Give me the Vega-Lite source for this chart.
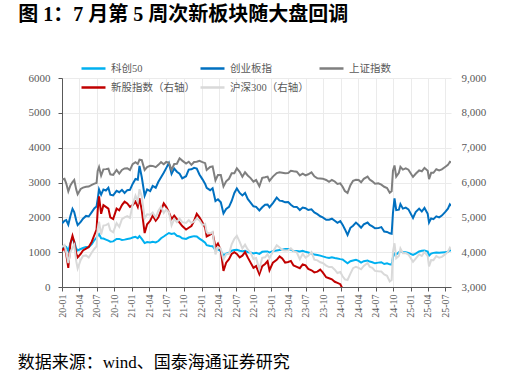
{
"$schema": "https://vega.github.io/schema/vega-lite/v6.json",
"background": "white",
"padding": {"left": 17, "right": 20, "top": 5, "bottom": 4},
"config": {"view": {"stroke": null}, "font": "Liberation Serif, Noto Sans CJK SC"},
"title": {"text": "图 1：7 月第 5 周次新板块随大盘回调", "anchor": "start", "frame": "bounds", "font": "Liberation Serif, Noto Sans CJK SC", "fontSize": 20, "fontWeight": "bold", "color": "#000000", "offset": 30, "dx": 1},
"width": 389, "height": 209,
"datasets": {"idx": [
{"date":"2020-01-02","科创50":1130,"创业板指":1826,"上证指数":3085,"新股指数（右轴）":4030,"沪深300（右轴）":4152},
{"date":"2020-01-14","科创50":1180,"创业板指":1900,"上证指数":3106,"新股指数（右轴）":4150,"沪深300（右轴）":4203},
{"date":"2020-01-23","科创50":1150,"创业板指":1920,"上证指数":2977,"新股指数（右轴）":3950,"沪深300（右轴）":4003},
{"date":"2020-02-03","科创50":1040,"创业板指":1789,"上证指数":2746,"新股指数（右轴）":3550,"沪深300（右轴）":3688},
{"date":"2020-02-14","科创50":1250,"创业板指":2040,"上证指数":2917,"新股指数（右轴）":4250,"沪深300（右轴）":4007},
{"date":"2020-02-25","科创50":1400,"创业板指":2245,"上证指数":3013,"新股指数（右轴）":4470,"沪深300（右轴）":4124},
{"date":"2020-03-05","科创50":1300,"创业板指":2150,"上证指数":3071,"新股指数（右轴）":4300,"沪深300（右轴）":4206},
{"date":"2020-03-16","科创50":1100,"创业板指":1900,"上证指数":2789,"新股指数（右轴）":3950,"沪深300（右轴）":3728},
{"date":"2020-03-23","科创50":1050,"创业板指":1776,"上证指数":2661,"新股指数（右轴）":3850,"沪深300（右轴）":3530},
{"date":"2020-04-08","科创50":1090,"创业板指":1870,"上证指数":2815,"新股指数（右轴）":3950,"沪深300（右轴）":3778},
{"date":"2020-04-20","科创50":1120,"创业板指":1960,"上证指数":2852,"新股指数（右轴）":4050,"沪深300（右轴）":3893},
{"date":"2020-05-06","科创50":1150,"创业板指":2040,"上证指数":2878,"新股指数（右轴）":4100,"沪深300（右轴）":3907},
{"date":"2020-05-20","科创50":1140,"创业板指":2025,"上证指数":2883,"新股指数（右轴）":4150,"沪深300（右轴）":3845},
{"date":"2020-06-05","科创50":1230,"创业板指":2150,"上证指数":2930,"新股指数（右轴）":4300,"沪深300（右轴）":3990},
{"date":"2020-06-19","科创50":1350,"创业板指":2260,"上证指数":2967,"新股指数（右轴）":4500,"沪深300（右轴）":4099},
{"date":"2020-06-30","科创50":1420,"创业板指":2312,"上证指数":2985,"新股指数（右轴）":4650,"沪深300（右轴）":4164},
{"date":"2020-07-06","科创50":1470,"创业板指":2520,"上证指数":3332,"新股指数（右轴）":5200,"沪深300（右轴）":4670},
{"date":"2020-07-13","科创50":1520,"创业板指":2800,"上证指数":3443,"新股指数（右轴）":5600,"沪深300（右轴）":4877},
{"date":"2020-07-24","科创50":1400,"创业板指":2650,"上证指数":3196,"新股指数（右轴）":5100,"沪深300（右轴）":4505},
{"date":"2020-08-05","科创50":1390,"创业板指":2800,"上证指数":3377,"新股指数（右轴）":5350,"沪深300（右轴）":4762},
{"date":"2020-08-18","科创50":1360,"创业板指":2770,"上证指数":3384,"新股指数（右轴）":5300,"沪深300（右轴）":4775},
{"date":"2020-08-31","科创50":1330,"创业板指":2847,"上证指数":3396,"新股指数（右轴）":5250,"沪深300（右轴）":4816},
{"date":"2020-09-10","科创50":1300,"创业板指":2650,"上证指数":3235,"新股指数（右轴）":5000,"沪深300（右轴）":4625},
{"date":"2020-09-25","科创50":1310,"创业板指":2630,"上证指数":3219,"新股指数（右轴）":4950,"沪深300（右轴）":4570},
{"date":"2020-10-13","科创50":1380,"创业板指":2760,"上证指数":3359,"新股指数（右轴）":5250,"沪深300（右轴）":4832},
{"date":"2020-10-27","科创50":1380,"创业板指":2720,"上证指数":3254,"新股指数（右轴）":5200,"沪深300（右轴）":4727},
{"date":"2020-11-10","科创50":1350,"创业板指":2790,"上证指数":3360,"新股指数（右轴）":5350,"沪深300（右轴）":4950},
{"date":"2020-11-24","科创50":1360,"创业板指":2700,"上证指数":3402,"新股指数（右轴）":5450,"沪深300（右轴）":5000},
{"date":"2020-12-08","科创50":1380,"创业板指":2780,"上证指数":3410,"新股指数（右轴）":5400,"沪深300（右轴）":5034},
{"date":"2020-12-22","科创50":1390,"创业板指":2790,"上证指数":3356,"新股指数（右轴）":5300,"沪深300（右轴）":4985},
{"date":"2021-01-05","科创50":1420,"创业板指":2960,"上证指数":3528,"新股指数（右轴）":5350,"沪深300（右轴）":5368},
{"date":"2021-01-20","科创50":1440,"创业板指":3100,"上证指数":3583,"新股指数（右轴）":5450,"沪深300（右轴）":5620},
{"date":"2021-02-01","科创50":1400,"创业板指":3080,"上证指数":3533,"新股指数（右轴）":5300,"沪深300（右轴）":5450},
{"date":"2021-02-10","科创50":1460,"创业板指":3476,"上证指数":3655,"新股指数（右轴）":5550,"沪深300（右轴）":5807},
{"date":"2021-02-22","科创50":1380,"创业板指":3150,"上证指数":3642,"新股指数（右轴）":5200,"沪深300（右轴）":5600},
{"date":"2021-03-09","科创50":1260,"创业板指":2620,"上证指数":3360,"新股指数（右轴）":4550,"沪深300（右轴）":4971},
{"date":"2021-03-22","科创50":1290,"创业板指":2800,"上证指数":3443,"新股指数（右轴）":4800,"沪深300（右轴）":5087},
{"date":"2021-04-07","科创50":1280,"创业板指":2750,"上证指数":3480,"新股指数（右轴）":4900,"沪深300（右轴）":5075},
{"date":"2021-04-20","科创50":1300,"创业板指":2900,"上证指数":3477,"新股指数（右轴）":5050,"沪深300（右轴）":5135},
{"date":"2021-05-06","科创50":1280,"创业板指":2850,"上证指数":3441,"新股指数（右轴）":4900,"沪深300（右轴）":4995},
{"date":"2021-05-20","科创50":1320,"创业板指":3020,"上证指数":3507,"新股指数（右轴）":5000,"沪深300（右轴）":5193},
{"date":"2021-06-03","科创50":1400,"创业板指":3150,"上证指数":3584,"新股指数（右轴）":5200,"沪深300（右轴）":5307},
{"date":"2021-06-17","科创50":1450,"创业板指":3280,"上证指数":3525,"新股指数（右轴）":5400,"沪深300（右轴）":5125},
{"date":"2021-06-30","科创50":1500,"创业板指":3412,"上证指数":3591,"新股指数（右轴）":5300,"沪深300（右轴）":5224},
{"date":"2021-07-14","科创50":1550,"创业板指":3560,"上证指数":3566,"新股指数（右轴）":5150,"沪深300（右轴）":5150},
{"date":"2021-07-28","科创50":1520,"创业板指":3250,"上证指数":3362,"新股指数（右轴）":4950,"沪深300（右轴）":4770},
{"date":"2021-08-11","科创50":1540,"创业板指":3400,"上证指数":3532,"新股指数（右轴）":5050,"沪深300（右轴）":4950},
{"date":"2021-08-25","科创50":1470,"创业板指":3310,"上证指数":3540,"新股指数（右轴）":4950,"沪深300（右轴）":4860},
{"date":"2021-09-08","科创50":1450,"创业板指":3250,"上证指数":3693,"新股指数（右轴）":4850,"沪深300（右轴）":4960},
{"date":"2021-09-22","科创50":1400,"创业板指":3120,"上证指数":3628,"新股指数（右轴）":4750,"沪深300（右轴）":4860},
{"date":"2021-10-12","科创50":1380,"创业板指":3180,"上证指数":3546,"新股指数（右轴）":4650,"沪深300（右轴）":4840},
{"date":"2021-10-26","科创50":1420,"创业板指":3370,"上证指数":3597,"新股指数（右轴）":4700,"沪深300（右轴）":4920},
{"date":"2021-11-09","科创50":1440,"创业板指":3380,"上证指数":3507,"新股指数（右轴）":4750,"沪深300（右轴）":4837},
{"date":"2021-11-23","科创50":1460,"创业板指":3420,"上证指数":3589,"新股指数（右轴）":4900,"沪深300（右轴）":4880},
{"date":"2021-12-07","科创50":1450,"创业板指":3400,"上证指数":3595,"新股指数（右轴）":5100,"沪深300（右轴）":4966},
{"date":"2021-12-21","科创50":1390,"创业板指":3230,"上证指数":3625,"新股指数（右轴）":5000,"沪深300（右轴）":4914},
{"date":"2022-01-06","科创50":1330,"创业板指":3090,"上证指数":3586,"新股指数（右轴）":4850,"沪深300（右轴）":4778},
{"date":"2022-01-20","科创50":1270,"创业板指":2960,"上证指数":3555,"新股指数（右轴）":4700,"沪深300（右轴）":4813},
{"date":"2022-01-28","科创50":1200,"创业板指":2844,"上证指数":3361,"新股指数（右轴）":4450,"沪深300（右轴）":4564},
{"date":"2022-02-15","科创50":1180,"创业板指":2780,"上证指数":3446,"新股指数（右轴）":4500,"沪深300（右轴）":4540},
{"date":"2022-02-28","科创50":1170,"创业板指":2836,"上证指数":3462,"新股指数（右轴）":4550,"沪深300（右轴）":4581},
{"date":"2022-03-15","科创50":1060,"创业板指":2470,"上证指数":3064,"新股指数（右轴）":4150,"沪深300（右轴）":3934},
{"date":"2022-03-28","科创50":1080,"创业板指":2520,"上证指数":3214,"新股指数（右轴）":4250,"沪深300（右轴）":4150},
{"date":"2022-04-12","科创50":1030,"创业板指":2430,"上证指数":3213,"新股指数（右轴）":4050,"沪深300（右轴）":4100},
{"date":"2022-04-26","科创50":910,"创业板指":2112,"上证指数":2887,"新股指数（右轴）":3460,"沪深300（右轴）":3785},
{"date":"2022-05-10","科创50":960,"创业板指":2240,"上证指数":3035,"新股指数（右轴）":3700,"沪深300（右轴）":3940},
{"date":"2022-05-25","科创50":980,"创业板指":2300,"上证指数":3107,"新股指数（右轴）":3800,"沪深300（右轴）":3953},
{"date":"2022-06-08","科创50":1040,"创业板指":2470,"上证指数":3263,"新股指数（右轴）":3950,"沪深300（右轴）":4227},
{"date":"2022-06-22","科创50":1060,"创业板指":2700,"上证指数":3267,"新股指数（右轴）":4000,"沪深300（右轴）":4384},
{"date":"2022-07-05","科创50":1070,"创业板指":2830,"上证指数":3405,"新股指数（右轴）":3950,"沪深300（右轴）":4470},
{"date":"2022-07-20","科创50":1040,"创业板指":2700,"上证指数":3305,"新股指数（右轴）":3850,"沪深300（右轴）":4298},
{"date":"2022-08-03","科创50":1030,"创业板指":2630,"上证指数":3163,"新股指数（右轴）":3900,"沪深300（右轴）":4107},
{"date":"2022-08-17","科创50":1040,"创业板指":2700,"上证指数":3292,"新股指数（右轴）":4000,"沪深300（右轴）":4215},
{"date":"2022-08-31","科创50":1000,"创业板指":2527,"上证指数":3202,"新股指数（右轴）":3850,"沪深300（右轴）":4078},
{"date":"2022-09-15","科创50":990,"创业板指":2420,"上证指数":3126,"新股指数（右轴）":3700,"沪深300（右轴）":3989},
{"date":"2022-09-30","科创50":960,"创业板指":2316,"上证指数":3024,"新股指数（右轴）":3550,"沪深300（右轴）":3804},
{"date":"2022-10-14","科创50":980,"创业板指":2300,"上证指数":3071,"新股指数（右轴）":3600,"沪深300（右轴）":3829},
{"date":"2022-10-31","科创50":950,"创业板指":2197,"上证指数":2893,"新股指数（右轴）":3370,"沪深300（右轴）":3509},
{"date":"2022-11-15","科创50":1010,"创业板指":2290,"上证指数":3134,"新股指数（右轴）":3600,"沪深300（右轴）":3838},
{"date":"2022-11-30","科创50":1020,"创业板指":2364,"上证指数":3151,"新股指数（右轴）":3660,"沪深300（右轴）":3853},
{"date":"2022-12-13","科创50":1020,"创业板指":2370,"上证指数":3170,"新股指数（右轴）":3740,"沪深300（右轴）":3946},
{"date":"2022-12-23","科创50":990,"创业板指":2290,"上证指数":3046,"新股指数（右轴）":3480,"沪深300（右轴）":3828},
{"date":"2023-01-10","科创50":1030,"创业板指":2410,"上证指数":3169,"新股指数（右轴）":3700,"沪深300（右轴）":4010},
{"date":"2023-01-30","科创50":1050,"创业板指":2565,"上证指数":3269,"新股指数（右轴）":3780,"沪深300（右轴）":4201},
{"date":"2023-02-14","科创50":1060,"创业板指":2480,"上证指数":3293,"新股指数（右轴）":3880,"沪深300（右轴）":4134},
{"date":"2023-02-28","科创50":1070,"创业板指":2468,"上证指数":3280,"新股指数（右轴）":3820,"沪深300（右轴）":4061},
{"date":"2023-03-15","科创50":1090,"创业板指":2430,"上证指数":3264,"新股指数（右轴）":3700,"沪深300（右轴）":4045},
{"date":"2023-03-31","科创50":1090,"创业板指":2436,"上证指数":3273,"新股指数（右轴）":3720,"沪深300（右轴）":4051},
{"date":"2023-04-14","科创50":1070,"创业板指":2360,"上证指数":3338,"新股指数（右轴）":3750,"沪深300（右轴）":4110},
{"date":"2023-04-28","科创50":1030,"创业板指":2305,"上证指数":3323,"新股指数（右轴）":3620,"沪深300（右轴）":4029},
{"date":"2023-05-15","科创50":1030,"创业板指":2300,"上证指数":3311,"新股指数（右轴）":3580,"沪深300（右轴）":3998},
{"date":"2023-05-31","科创50":1020,"创业板指":2210,"上证指数":3205,"新股指数（右轴）":3540,"沪深300（右轴）":3799},
{"date":"2023-06-15","科创50":1040,"创业板指":2280,"上证指数":3253,"新股指数（右轴）":3650,"沪深300（右轴）":3952},
{"date":"2023-06-30","科创50":1010,"创业板指":2260,"上证指数":3202,"新股指数（右轴）":3620,"沪深300（右轴）":3842},
{"date":"2023-07-14","科创50":990,"创业板指":2210,"上证指数":3237,"新股指数（右轴）":3520,"沪深300（右轴）":3899},
{"date":"2023-07-31","科创50":960,"创业板指":2230,"上证指数":3291,"新股指数（右轴）":3480,"沪深300（右轴）":4000},
{"date":"2023-08-15","科创50":930,"创业板指":2140,"上证指数":3176,"新股指数（右轴）":3420,"沪深300（右轴）":3783},
{"date":"2023-08-31","科创50":920,"创业板指":2090,"上证指数":3120,"新股指数（右轴）":3440,"沪深300（右轴）":3765},
{"date":"2023-09-15","科创50":900,"创业板指":2030,"上证指数":3117,"新股指数（右轴）":3500,"沪深300（右轴）":3708},
{"date":"2023-09-28","科创50":880,"创业板指":2000,"上证指数":3110,"新股指数（右轴）":3420,"沪深300（右轴）":3690},
{"date":"2023-10-16","科创50":850,"创业板指":1930,"上证指数":3073,"新股指数（右轴）":3280,"沪深300（右轴）":3613},
{"date":"2023-10-31","科创50":830,"创业板指":1930,"上证指数":3018,"新股指数（右轴）":3250,"沪深300（右轴）":3572},
{"date":"2023-11-15","科创50":850,"创业板指":1960,"上证指数":3072,"新股指数（右轴）":3220,"沪深300（右轴）":3576},
{"date":"2023-11-30","科创50":830,"创业板指":1900,"上证指数":3030,"新股指数（右轴）":3150,"沪深300（右轴）":3497},
{"date":"2023-12-14","科创50":820,"创业板指":1840,"上证指数":2958,"新股指数（右轴）":3120,"沪深300（右轴）":3401},
{"date":"2023-12-29","科创50":800,"创业板指":1891,"上证指数":2975,"新股指数（右轴）":3080,"沪深300（右轴）":3431},
{"date":"2024-01-10","科创50":790,"创业板指":1790,"上证指数":2877,"新股指数（右轴）":2950,"沪深300（右轴）":3309},
{"date":"2024-01-22","科创50":740,"创业板指":1660,"上证指数":2757,"沪深300（右轴）":3218},
{"date":"2024-02-05","科创50":680,"创业板指":1493,"上证指数":2702,"沪深300（右轴）":3201},
{"date":"2024-02-20","科创50":740,"创业板指":1700,"上证指数":2922,"沪深300（右轴）":3386},
{"date":"2024-03-05","科创50":760,"创业板指":1760,"上证指数":3048,"沪深300（右轴）":3541},
{"date":"2024-03-20","科创50":780,"创业板指":1850,"上证指数":3079,"沪深300（右轴）":3582},
{"date":"2024-04-03","科创50":750,"创业板指":1780,"上证指数":3074,"沪深300（右轴）":3550},
{"date":"2024-04-16","科创50":700,"创业板指":1700,"上证指数":3007,"沪深300（右轴）":3509},
{"date":"2024-04-30","科创50":740,"创业板指":1797,"上证指数":3105,"沪深300（右轴）":3604},
{"date":"2024-05-20","科创50":760,"创业板指":1850,"上证指数":3171,"沪深300（右轴）":3690},
{"date":"2024-05-31","科创50":730,"创业板指":1780,"上证指数":3087,"沪深300（右轴）":3580},
{"date":"2024-06-14","科创50":710,"创业板指":1740,"上证指数":3033,"沪深300（右轴）":3547},
{"date":"2024-06-28","科创50":680,"创业板指":1684,"上证指数":2967,"沪深300（右轴）":3462},
{"date":"2024-07-15","科创50":700,"创业板指":1690,"上证指数":2975,"沪深300（右轴）":3449},
{"date":"2024-07-31","科创50":710,"创业板指":1720,"上证指数":2939,"沪深300（右轴）":3443},
{"date":"2024-08-15","科创50":660,"创业板指":1590,"上证指数":2877,"沪深300（右轴）":3358},
{"date":"2024-08-30","科创50":680,"创业板指":1580,"上证指数":2842,"沪深300（右轴）":3321},
{"date":"2024-09-13","科创50":650,"创业板指":1540,"上证指数":2704,"沪深300（右轴）":3160},
{"date":"2024-09-23","科创50":640,"创业板指":1530,"上证指数":2748,"沪深300（右轴）":3201},
{"date":"2024-09-26","科创50":720,"创业板指":1780,"上证指数":3000,"沪深300（右轴）":3554},
{"date":"2024-09-30","科创50":860,"创业板指":2130,"上证指数":3336,"沪深300（右轴）":4018},
{"date":"2024-10-08","科创50":960,"创业板指":2542,"上证指数":3489,"沪深300（右轴）":4256},
{"date":"2024-10-17","科创50":930,"创业板指":2210,"上证指数":3170,"沪深300（右轴）":3824},
{"date":"2024-10-31","科创50":1000,"创业板指":2220,"上证指数":3279,"沪深300（右轴）":3892},
{"date":"2024-11-08","科创50":1030,"创业板指":2380,"上证指数":3452,"沪深300（右轴）":4104},
{"date":"2024-11-21","科创50":1000,"创业板指":2250,"上证指数":3370,"沪深300（右轴）":3968},
{"date":"2024-12-06","科创50":1000,"创业板指":2280,"上证指数":3404,"沪深300（右轴）":3973},
{"date":"2024-12-20","科创50":980,"创业板指":2230,"上证指数":3368,"沪深300（右轴）":3933},
{"date":"2025-01-13","科创50":920,"创业板指":1980,"上证指数":3160,"沪深300（右轴）":3722},
{"date":"2025-01-27","科创50":960,"创业板指":2150,"上证指数":3250,"沪深300（右轴）":3817},
{"date":"2025-02-14","科创50":1020,"创业板指":2250,"上证指数":3347,"沪深300（右轴）":3939},
{"date":"2025-02-28","科创50":1040,"创业板指":2168,"上证指数":3321,"沪深300（右轴）":3890},
{"date":"2025-03-14","科创50":1050,"创业板指":2270,"上证指数":3420,"沪深300（右轴）":4007},
{"date":"2025-03-31","科创50":1020,"创业板指":2103,"上证指数":3335,"沪深300（右轴）":3887},
{"date":"2025-04-07","科创50":900,"创业板指":1850,"上证指数":3096,"沪深300（右轴）":3590},
{"date":"2025-04-18","科创50":960,"创业板指":1970,"上证指数":3277,"沪深300（右轴）":3772},
{"date":"2025-04-30","科创50":980,"创业板指":1948,"上证指数":3279,"沪深300（右轴）":3770},
{"date":"2025-05-15","科创50":990,"创业板指":2030,"上证指数":3381,"沪深300（右轴）":3890},
{"date":"2025-05-30","科创50":980,"创业板指":2000,"上证指数":3347,"沪深300（右轴）":3840},
{"date":"2025-06-13","科创50":990,"创业板指":2050,"上证指数":3377,"沪深300（右轴）":3865},
{"date":"2025-06-30","科创50":1000,"创业板指":2150,"上证指数":3444,"沪深300（右轴）":3936},
{"date":"2025-07-15","科创50":1010,"创业板指":2250,"上证指数":3505,"沪深300（右轴）":4014},
{"date":"2025-07-25","科创50":1060,"创业板指":2370,"上证指数":3593,"沪深300（右轴）":4127},
{"date":"2025-07-31","科创50":1040,"创业板指":2330,"上证指数":3573,"沪深300（右轴）":4075}
]},
"data": {"name": "idx"},
"layer": [
 {
  "transform": [{"fold": ["科创50", "创业板指", "上证指数"], "as": ["series", "value"]}],
  "mark": {"type": "line", "strokeWidth": 2, "clip": true},
  "encoding": {
   "x": {"field": "date", "type": "temporal",
    "scale": {"type": "utc", "domain": [{"year": 2020, "month": 1, "date": 1, "utc": true}, {"year": 2025, "month": 7, "date": 31, "utc": true}]},
    "axis": {"labelExpr": "utcFormat(datum.value, '%y-%m')", "labelAngle": -90, "tickCount": {"interval": "month", "step": 3}, "grid": true, "gridColor": "#EBEBEB", "domainColor": "#595959", "tickColor": "#595959", "tickSize": 4, "labelFont": "Liberation Serif", "labelFontSize": 10, "labelColor": "#595959", "labelPadding": 3, "labelOverlap": false, "labelFlush": false,
      "title": "数据来源：wind、国泰海通证券研究", "titleFont": "Liberation Serif, Noto Sans CJK SC", "titleFontSize": 17, "titleFontWeight": "normal", "titleColor": "#000000", "titleAlign": "left", "titleBaseline": "top", "titleAnchor": "start", "titleX": -44.7, "titleY": 67}},
   "y": {"field": "value", "type": "quantitative",
    "scale": {"domain": [0, 6000], "nice": false},
    "axis": {"title": null, "orient": "left", "values": [0, 1000, 2000, 3000, 4000, 5000, 6000], "format": "d", "grid": true, "gridColor": "#EBEBEB", "domainColor": "#595959", "tickColor": "#595959", "tickSize": 4, "labelFont": "Liberation Serif", "labelFontSize": 11, "labelColor": "#595959", "labelPadding": 8}},
   "color": {"field": "series", "type": "nominal",
    "scale": {"domain": ["科创50", "创业板指", "上证指数", "新股指数（右轴）", "沪深300（右轴）"], "range": ["#00B0F0", "#0070C0", "#7F7F7F", "#C00000", "#D9D9D9"]},
    "legend": {"title": null, "orient": "none", "legendX": 18, "legendY": -23, "columns": 3, "direction": "horizontal", "gridAlign": "all", "symbolType": "stroke", "symbolSize": 576, "symbolStrokeWidth": 2.5, "labelFont": "Liberation Serif, Noto Sans CJK SC", "labelFontSize": 10.5, "labelColor": "#595959", "labelOffset": 4, "columnPadding": 0, "rowPadding": -5}}
  }
 },
 {
  "transform": [{"fold": ["新股指数（右轴）", "沪深300（右轴）"], "as": ["series", "value"]}],
  "mark": {"type": "line", "strokeWidth": 2, "clip": true},
  "encoding": {
   "x": {"field": "date", "type": "temporal"},
   "y": {"field": "value", "type": "quantitative",
    "scale": {"domain": [3000, 9000], "nice": false},
    "axis": {"title": null, "orient": "right", "values": [3000, 4000, 5000, 6000, 7000, 8000, 9000], "format": ",d", "grid": false, "domain": false, "ticks": false, "labelFont": "Liberation Serif", "labelFontSize": 11, "labelColor": "#595959", "labelPadding": 10}},
   "color": {"field": "series", "type": "nominal",
    "scale": {"domain": ["科创50", "创业板指", "上证指数", "新股指数（右轴）", "沪深300（右轴）"], "range": ["#00B0F0", "#0070C0", "#7F7F7F", "#C00000", "#D9D9D9"]}}
  }
 }
],
"resolve": {"scale": {"y": "independent"}, "axis": {"y": "independent"}}
}
